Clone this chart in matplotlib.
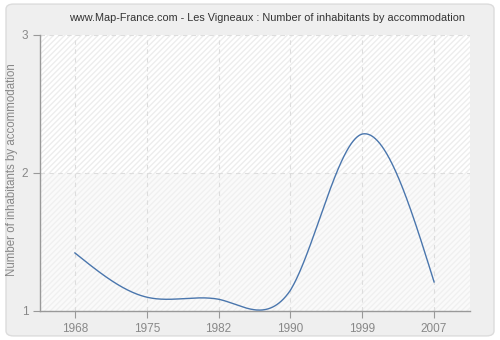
import numpy as np
import matplotlib
matplotlib.use("Agg")
import matplotlib.pyplot as plt
from matplotlib.patches import FancyBboxPatch, Rectangle

plt.rcParams['font.family'] = ['Liberation Sans', 'DejaVu Sans']

years = [1968, 1975, 1982, 1990, 1999, 2007]
values = [1.42, 1.10, 1.085, 1.15, 2.28, 1.21]
yticks = [1, 2, 3]

def natural_spline(x, y, xs):
    x = np.asarray(x, float); y = np.asarray(y, float)
    n = len(x)
    h = np.diff(x)
    A = np.zeros((n, n)); b = np.zeros(n)
    A[0, 0] = 1; A[-1, -1] = 1
    for i in range(1, n - 1):
        A[i, i - 1] = h[i - 1]
        A[i, i] = 2 * (h[i - 1] + h[i])
        A[i, i + 1] = h[i]
        b[i] = 6 * ((y[i + 1] - y[i]) / h[i] - (y[i] - y[i - 1]) / h[i - 1])
    M = np.linalg.solve(A, b)
    out = np.empty_like(xs)
    for k, xv in enumerate(xs):
        i = min(max(np.searchsorted(x, xv) - 1, 0), n - 2)
        a = (x[i + 1] - xv) / h[i]
        bb = (xv - x[i]) / h[i]
        out[k] = a * y[i] + bb * y[i + 1] + ((a ** 3 - a) * M[i] + (bb ** 3 - bb) * M[i + 1]) * h[i] ** 2 / 6
    return out

xpos = np.arange(len(years))
yr_fine = np.linspace(years[0], years[-1], 800)
ys = natural_spline(years, values, yr_fine)
xs = np.interp(yr_fine, years, xpos)

fig = plt.figure(figsize=(5, 3.4), dpi=100)
fig.patch.set_facecolor("white")
panel = FancyBboxPatch((0.012, 0.012), 0.976, 0.976, boxstyle="round,pad=0,rounding_size=0.015",
                       transform=fig.transFigure, facecolor="#efefef", edgecolor="#dcdcdc",
                       linewidth=1.0, zorder=-10)
fig.patches.append(panel)

ax = fig.add_axes([0.08, 0.0853, 0.86, 0.8132])
ax.set_zorder(1)
ax.set_facecolor("#ffffff")
ax.add_patch(Rectangle((-0.5, 2), 7, 1, facecolor="#ffffff", edgecolor="#ededed",
                       hatch="//////", linewidth=0, zorder=0))
ax.add_patch(Rectangle((-0.5, 1), 7, 1, facecolor="#fafafa", edgecolor="#f0f0f0",
                       hatch="//////", linewidth=0, zorder=0))

ax.plot(xs, ys, color="#4a76ad", linewidth=1.0, zorder=3)

ax.set_xlim(-0.486, 5.5)
ax.set_ylim(1, 3)
ax.set_xticks(xpos)
ax.set_xticklabels([str(y) for y in years])
ax.set_yticks(yticks)
ax.set_yticklabels([str(t) for t in yticks])

ax.grid(True, color="#dddddd", linestyle=(0, (4, 4)), linewidth=0.8, zorder=1)
ax.set_axisbelow(True)
for s in ["top", "right"]:
    ax.spines[s].set_visible(False)
for s in ["left", "bottom"]:
    ax.spines[s].set_color("#999999")
    ax.spines[s].set_linewidth(1.0)
ax.tick_params(axis="both", colors="#999999", labelcolor="#888888", labelsize=8.5, length=5, width=0.8)

ax.set_ylabel("Number of inhabitants by accommodation", color="#888888", fontsize=8.3)
ax.yaxis.set_label_coords(-0.05, 0.51)
fig.text(0.535, 0.947, "www.Map-France.com - Les Vigneaux : Number of inhabitants by accommodation",
         ha="center", va="center", fontsize=7.8, color="#333333")

fig.savefig("out.png", dpi=100, facecolor=fig.get_facecolor())
